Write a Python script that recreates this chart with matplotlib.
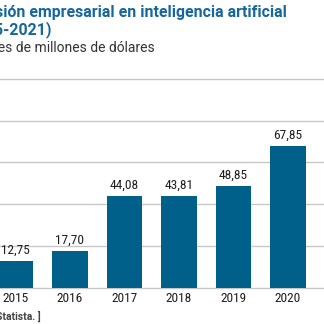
import matplotlib
matplotlib.use("Agg")
import matplotlib.pyplot as plt

years = ["2015", "2016", "2017", "2018", "2019", "2020"]
values = [12.75, 17.70, 44.08, 43.81, 48.85, 67.85]
labels = ["12,75", "17,70", "44,08", "43,81", "48,85", "67,85"]
grid_ticks = [0, 20, 40, 60, 80, 100]

title_1 = "Inversión empresarial en inteligencia artificial"
title_2 = "(2015-2021)"
subtitle = "Miles de millones de dólares"
source = "[ Fuente: Statista. ]"

BAR = "#00608a"
TITLE = "#17679a"
narrow = ["Roboto Condensed", "DejaVu Sans Condensed", "Liberation Sans Narrow",
          "Roboto", "DejaVu Sans"]

fig = plt.figure(figsize=(3.24, 3.24), dpi=100)
ax = fig.add_axes([0, 0, 1, 1])

# one category = 54.5 px, first bar centred at 15.5 px; 2.093 px per unit
ax.set_xlim(-15.5 / 54.5, (324 - 15.5) / 54.5)
ax.set_ylim(-36 / 2.093, 288 / 2.093)

for t in grid_ticks:
    ax.axhline(t, color="#c8c8c8", lw=1.0, zorder=0)

xs = range(len(years))
ax.bar(xs, values, width=0.66, color=BAR, zorder=2)

for x, v, lab in zip(xs, values, labels):
    ax.text(x, v + 2.0, lab, ha="center", va="bottom", fontsize=9.6,
            family=narrow, color="#1e1e1e")
for x, y in zip(xs, years):
    ax.text(x, -5, y, ha="center", va="center", fontsize=9.6,
            family=narrow, color="#1e1e1e")

ax.axis("off")

# headline texts run off the left edge of the frame
fig.text(287 / 324, 1 - 12 / 324, title_1, ha="right", va="center",
         fontsize=11.4, fontweight="bold", family="Roboto", color=TITLE)
fig.text(51 / 324, 1 - 30 / 324, title_2, ha="right", va="center",
         fontsize=11.4, fontweight="bold", family="Roboto", color=TITLE)
fig.text(155 / 324, 1 - 48 / 324, subtitle, ha="right", va="center",
         fontsize=10, family="Roboto", color="#333333")
fig.text(41 / 324, 1 - 316 / 324, source, ha="right", va="center",
         fontsize=7.5, fontweight="bold", family="Roboto", color="#444444")

fig.savefig("out.png", dpi=100)
